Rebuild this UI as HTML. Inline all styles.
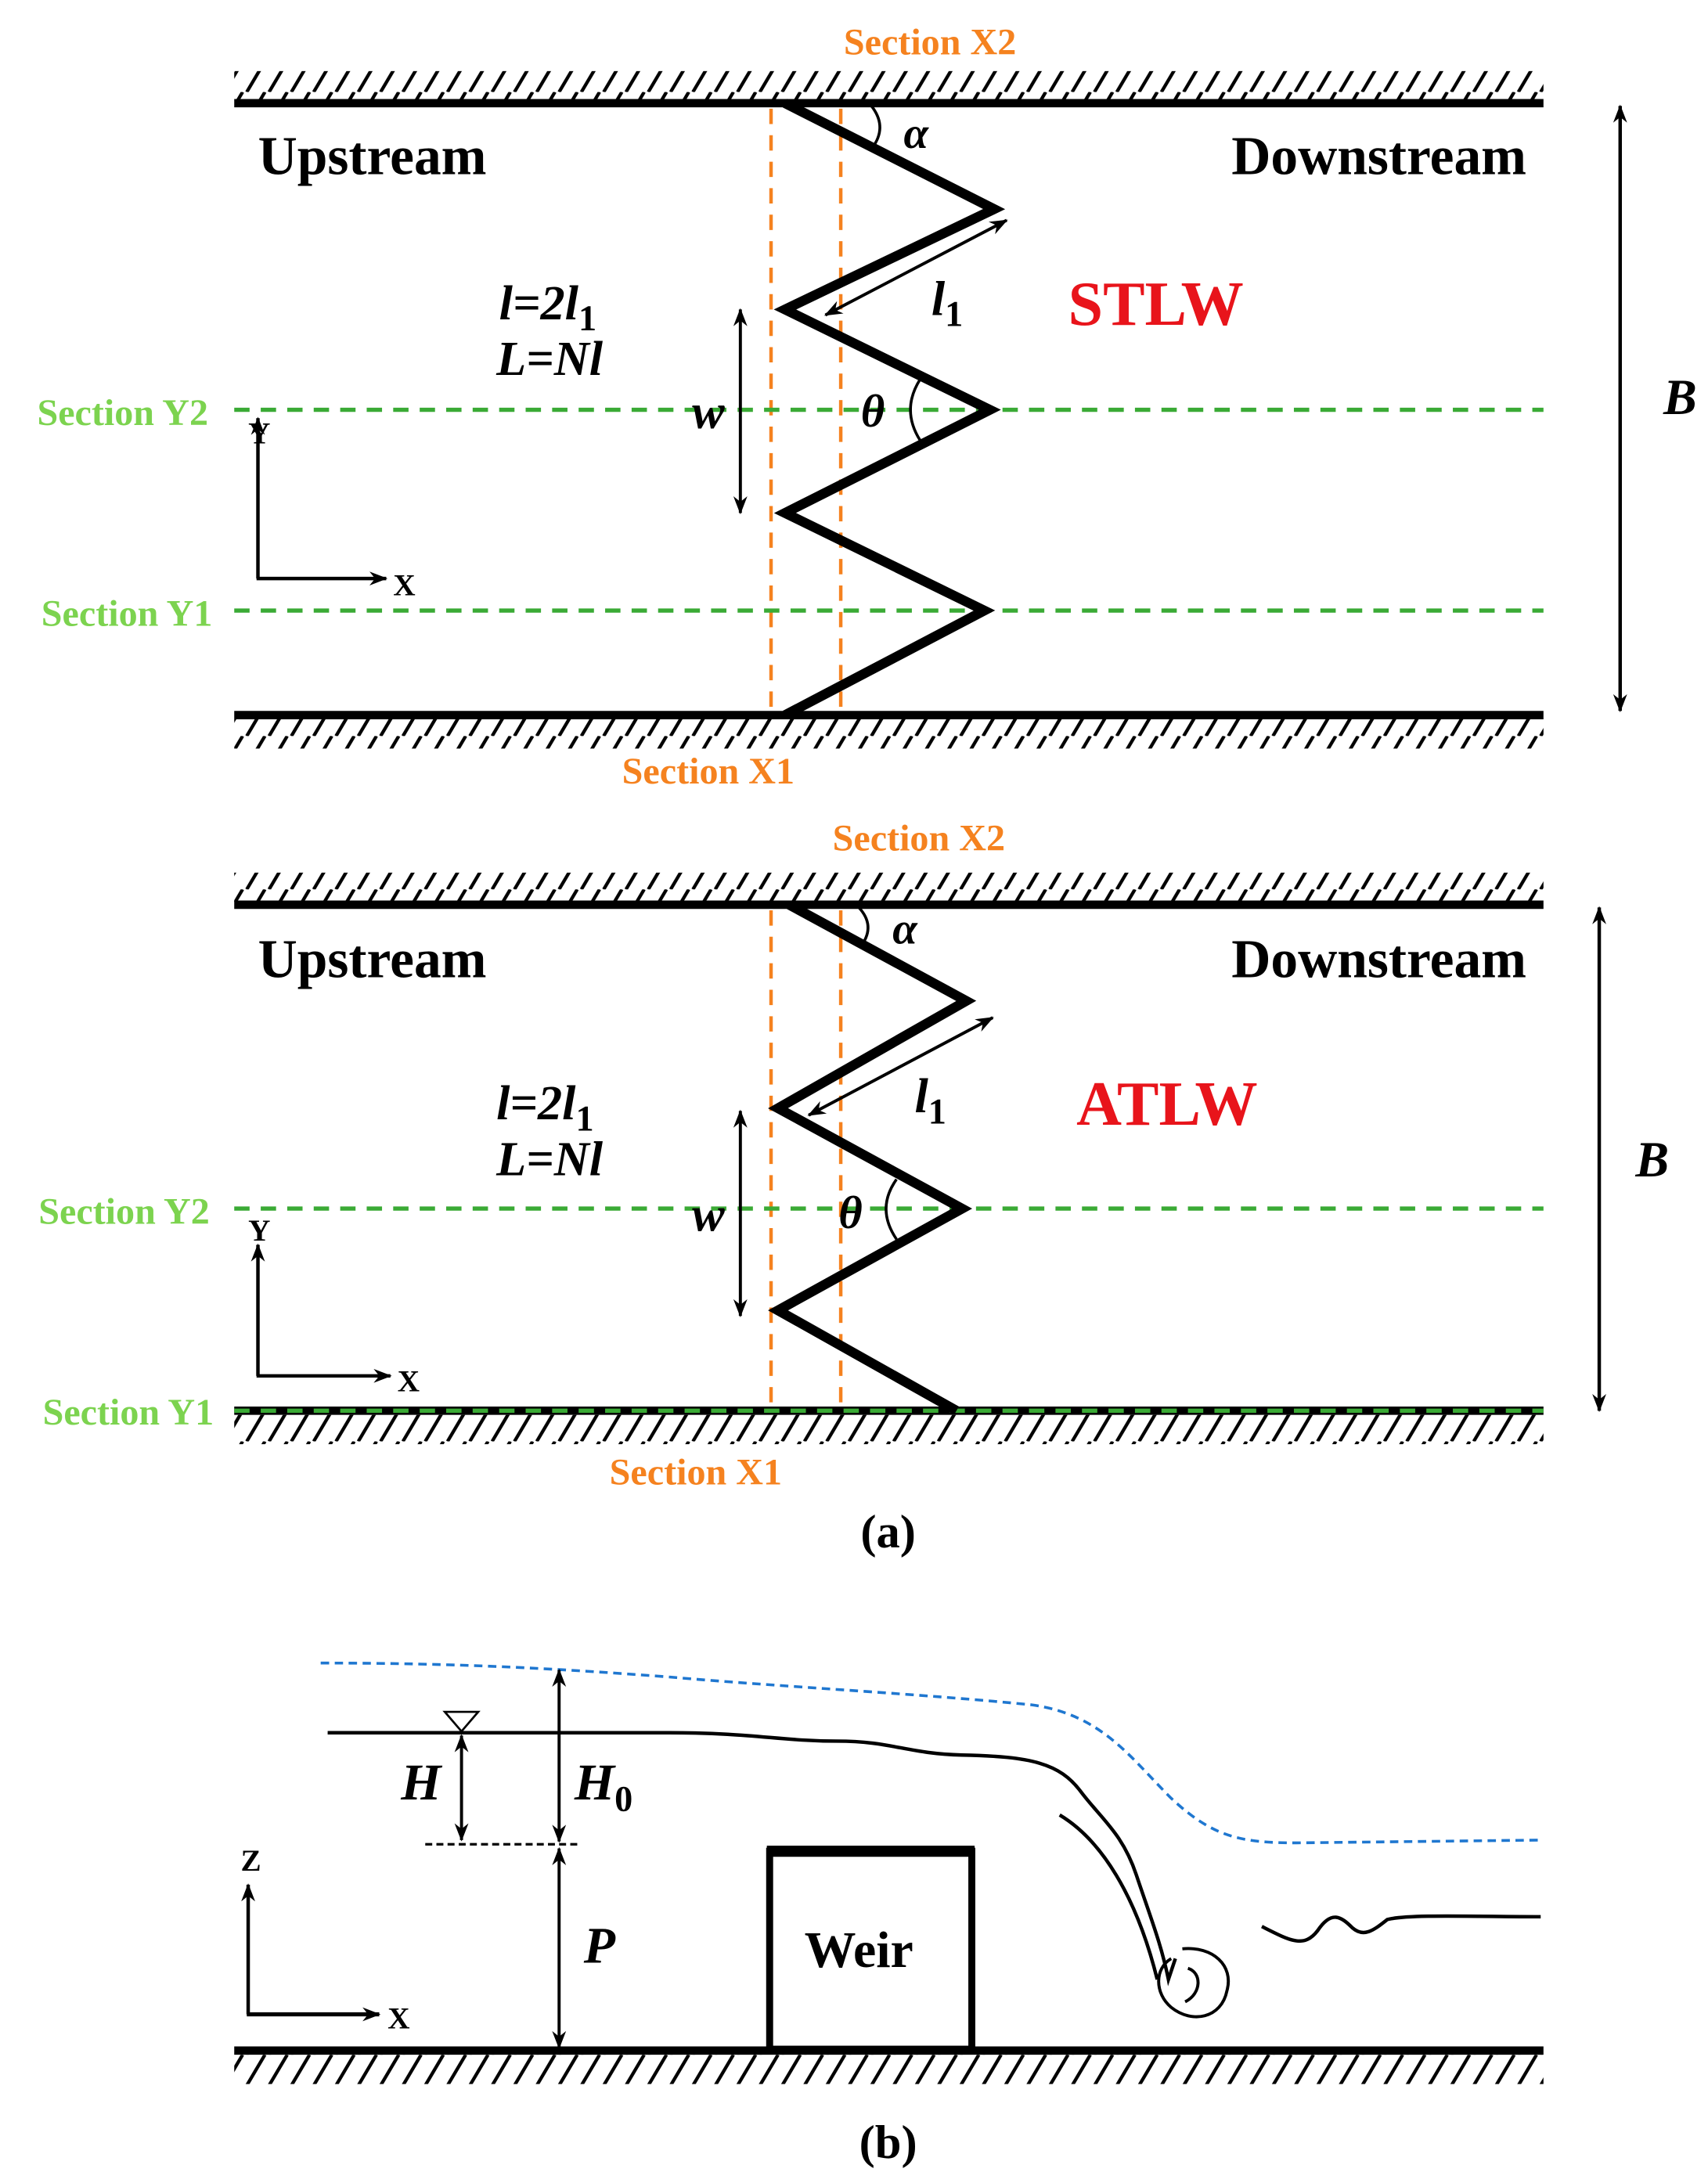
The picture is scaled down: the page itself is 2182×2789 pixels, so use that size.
<!DOCTYPE html>
<html><head><meta charset="utf-8"><style>
html,body{margin:0;padding:0;background:#fff}
svg{display:block}
.t{font-family:"Liberation Serif",serif;font-weight:bold}
</style></head><body>
<svg width="2182" height="2789" viewBox="0 0 1225 1566" preserveAspectRatio="none" xmlns="http://www.w3.org/2000/svg">
<defs>
<pattern id="hatch" patternUnits="userSpaceOnUse" width="16" height="22">
<line x1="1" y1="22" x2="14" y2="0" stroke="#000" stroke-width="2.4"/>
</pattern>
<marker id="ah" markerWidth="13" markerHeight="12" refX="12" refY="6" orient="auto-start-reverse" markerUnits="userSpaceOnUse">
<path d="M0,1 L13,6 L0,11 L4,6 Z" fill="#000"/>
</marker>
</defs>

<!-- ===== Panel 1 ===== -->
<rect x="168" y="51" width="939" height="21" fill="url(#hatch)"/>
<line x1="168" y1="74" x2="1107" y2="74" stroke="#000" stroke-width="6"/>
<line x1="168" y1="513" x2="1107" y2="513" stroke="#000" stroke-width="6"/>
<rect x="168" y="516" width="939" height="21" fill="url(#hatch)"/>

<line x1="553" y1="78" x2="553" y2="513" stroke="#f5821f" stroke-width="2.5" stroke-dasharray="11,8"/>
<line x1="603" y1="78" x2="603" y2="513" stroke="#f5821f" stroke-width="2.5" stroke-dasharray="11,8"/>
<line x1="168" y1="294" x2="1107" y2="294" stroke="#3aaa35" stroke-width="3" stroke-dasharray="11,8"/>
<line x1="168" y1="438" x2="1107" y2="438" stroke="#3aaa35" stroke-width="3" stroke-dasharray="11,8"/>

<polyline points="563,74 713,150 563,222 710,294 563,368 706,438 563,513" fill="none" stroke="#000" stroke-width="7" stroke-linejoin="miter"/>

<text x="667" y="39" class="t" font-size="27" fill="#f5821f" text-anchor="middle">Section X2</text>
<text x="508" y="562" class="t" font-size="27" fill="#f5821f" text-anchor="middle">Section X1</text>
<text x="88" y="305" class="t" font-size="27" fill="#7cd34f" text-anchor="middle">Section Y2</text>
<text x="91" y="449" class="t" font-size="27" fill="#7cd34f" text-anchor="middle">Section Y1</text>
<text x="267" y="125" class="t" font-size="39" text-anchor="middle">Upstream</text>
<text x="989" y="125" class="t" font-size="39" text-anchor="middle">Downstream</text>
<text x="829" y="233" class="t" font-size="45" fill="#e8141b" text-anchor="middle">STLW</text>
<path d="M625,76 Q636,90 627,104" fill="none" stroke="#000" stroke-width="2"/>
<text x="657" y="106" class="t" font-size="32" font-style="italic" text-anchor="middle">α</text>
<line x1="592" y1="226" x2="722" y2="158" stroke="#000" stroke-width="2.2" marker-start="url(#ah)" marker-end="url(#ah)"/>
<text x="668" y="226" class="t" font-size="35" font-style="italic">l<tspan font-size="26" font-style="normal" dy="8">1</tspan></text>
<text x="358" y="229" class="t" font-size="35" font-style="italic">l=2l<tspan font-size="26" font-style="normal" dy="8">1</tspan></text>
<text x="356" y="269" class="t" font-size="35" font-style="italic">L=Nl</text>
<line x1="531" y1="222" x2="531" y2="368" stroke="#000" stroke-width="2.2" marker-start="url(#ah)" marker-end="url(#ah)"/>
<text x="508" y="307" class="t" font-size="35" font-style="italic" text-anchor="middle">w</text>
<path d="M660,272 Q646,294 660,316" fill="none" stroke="#000" stroke-width="2"/>
<text x="626" y="306" class="t" font-size="33" font-style="italic" text-anchor="middle">θ</text>
<line x1="185" y1="415" x2="185" y2="300" stroke="#000" stroke-width="2.5" marker-end="url(#ah)"/>
<line x1="184" y1="415" x2="277" y2="415" stroke="#000" stroke-width="2.5" marker-end="url(#ah)"/>
<text x="186" y="318" font-family="Liberation Serif,serif" font-weight="bold" font-size="22" text-anchor="middle">Y</text>
<text x="290" y="427" font-family="Liberation Serif,serif" font-weight="bold" font-size="22" text-anchor="middle">X</text>
<line x1="1162" y1="76" x2="1162" y2="510" stroke="#000" stroke-width="2.5" marker-start="url(#ah)" marker-end="url(#ah)"/>
<text x="1205" y="297" class="t" font-size="36" font-style="italic" text-anchor="middle">B</text>

<!-- ===== Panel 2 ===== -->
<rect x="168" y="626" width="939" height="21" fill="url(#hatch)"/>
<line x1="168" y1="649" x2="1107" y2="649" stroke="#000" stroke-width="6"/>
<line x1="168" y1="1012" x2="1107" y2="1012" stroke="#000" stroke-width="6"/>
<rect x="168" y="1015" width="939" height="21" fill="url(#hatch)"/>
<line x1="553" y1="653" x2="553" y2="1012" stroke="#f5821f" stroke-width="2.5" stroke-dasharray="11,8"/>
<line x1="603" y1="653" x2="603" y2="1012" stroke="#f5821f" stroke-width="2.5" stroke-dasharray="11,8"/>
<line x1="168" y1="867" x2="1107" y2="867" stroke="#3aaa35" stroke-width="3" stroke-dasharray="11,8"/>
<line x1="168" y1="1012" x2="1107" y2="1012" stroke="#3aaa35" stroke-width="3" stroke-dasharray="11,8"/>
<polyline points="566,649 693,718 558,795 690,867 558,940 686,1012" fill="none" stroke="#000" stroke-width="7"/>
<text x="659" y="610" class="t" font-size="27" fill="#f5821f" text-anchor="middle">Section X2</text>
<text x="499" y="1065" class="t" font-size="27" fill="#f5821f" text-anchor="middle">Section X1</text>
<text x="89" y="878" class="t" font-size="27" fill="#7cd34f" text-anchor="middle">Section Y2</text>
<text x="92" y="1022" class="t" font-size="27" fill="#7cd34f" text-anchor="middle">Section Y1</text>
<text x="267" y="701" class="t" font-size="39" text-anchor="middle">Upstream</text>
<text x="989" y="701" class="t" font-size="39" text-anchor="middle">Downstream</text>
<text x="837" y="807" class="t" font-size="45" fill="#e8141b" text-anchor="middle">ATLW</text>
<path d="M616,651 Q628,664 618,678" fill="none" stroke="#000" stroke-width="2"/>
<text x="649" y="677" class="t" font-size="32" font-style="italic" text-anchor="middle">α</text>
<line x1="580" y1="800" x2="712" y2="730" stroke="#000" stroke-width="2.2" marker-start="url(#ah)" marker-end="url(#ah)"/>
<text x="656" y="798" class="t" font-size="35" font-style="italic">l<tspan font-size="26" font-style="normal" dy="8">1</tspan></text>
<text x="356" y="803" class="t" font-size="35" font-style="italic">l=2l<tspan font-size="26" font-style="normal" dy="8">1</tspan></text>
<text x="356" y="843" class="t" font-size="35" font-style="italic">L=Nl</text>
<line x1="531" y1="797" x2="531" y2="944" stroke="#000" stroke-width="2.2" marker-start="url(#ah)" marker-end="url(#ah)"/>
<text x="508" y="883" class="t" font-size="35" font-style="italic" text-anchor="middle">w</text>
<path d="M643,846 Q628,867 643,889" fill="none" stroke="#000" stroke-width="2"/>
<text x="610" y="881" class="t" font-size="33" font-style="italic" text-anchor="middle">θ</text>
<line x1="185" y1="987" x2="185" y2="893" stroke="#000" stroke-width="2.5" marker-end="url(#ah)"/>
<line x1="184" y1="987" x2="280" y2="987" stroke="#000" stroke-width="2.5" marker-end="url(#ah)"/>
<text x="186" y="890" font-family="Liberation Serif,serif" font-weight="bold" font-size="22" text-anchor="middle">Y</text>
<text x="293" y="998" font-family="Liberation Serif,serif" font-weight="bold" font-size="22" text-anchor="middle">X</text>
<line x1="1147" y1="651" x2="1147" y2="1012" stroke="#000" stroke-width="2.5" marker-start="url(#ah)" marker-end="url(#ah)"/>
<text x="1185" y="844" class="t" font-size="36" font-style="italic" text-anchor="middle">B</text>
<text x="637" y="1110" class="t" font-size="34" text-anchor="middle">(a)</text>

<!-- ===== Panel b ===== -->
<path d="M230,1193 C330,1193 400,1197 480,1203 C560,1210 660,1215 740,1223 C790,1230 810,1260 840,1290 C870,1318 890,1322 930,1322 L1105,1320" fill="none" stroke="#1f77d0" stroke-width="2" stroke-dasharray="6,4"/>
<path d="M235,1243 L480,1243 C540,1243 560,1249 600,1249 C640,1249 650,1258 690,1259 C740,1260 760,1265 775,1285 C790,1305 805,1315 815,1345 C825,1375 833,1395 838,1420 L843,1405" fill="none" stroke="#000" stroke-width="2.5"/>
<path d="M760,1302 C790,1320 815,1360 830,1420" fill="none" stroke="#000" stroke-width="2.5"/>
<path d="M848,1398 C870,1396 885,1410 880,1428 C876,1448 855,1452 840,1440 C828,1430 828,1412 840,1405 M852,1412 C862,1415 862,1430 850,1436" fill="none" stroke="#000" stroke-width="2.2"/>
<path d="M905,1382 C925,1392 935,1398 945,1385 C955,1370 962,1375 970,1383 C978,1390 985,1385 995,1377 C1010,1373 1060,1375 1105,1375" fill="none" stroke="#000" stroke-width="2.5"/>
<path d="M319,1228 L343,1228 L331,1242 Z" fill="#fff" stroke="#000" stroke-width="1.5"/>
<line x1="331" y1="1245" x2="331" y2="1320" stroke="#000" stroke-width="2.2" marker-start="url(#ah)" marker-end="url(#ah)"/>
<line x1="401" y1="1198" x2="401" y2="1321" stroke="#000" stroke-width="2.2" marker-start="url(#ah)" marker-end="url(#ah)"/>
<line x1="305" y1="1323" x2="415" y2="1323" stroke="#000" stroke-width="1.8" stroke-dasharray="5,3"/>
<line x1="401" y1="1326" x2="401" y2="1469" stroke="#000" stroke-width="2.2" marker-start="url(#ah)" marker-end="url(#ah)"/>
<text x="302" y="1291" class="t" font-size="37" font-style="italic" text-anchor="middle">H</text>
<text x="412" y="1291" class="t" font-size="37" font-style="italic">H<tspan font-size="26" font-style="normal" dy="8">0</tspan></text>
<text x="430" y="1408" class="t" font-size="37" font-style="italic" text-anchor="middle">P</text>
<rect x="552" y="1328" width="145" height="142" fill="none" stroke="#000" stroke-width="5"/>
<line x1="550" y1="1328" x2="699" y2="1328" stroke="#000" stroke-width="8"/>
<text x="616" y="1411" class="t" font-size="37" text-anchor="middle">Weir</text>
<line x1="178" y1="1445" x2="178" y2="1352" stroke="#000" stroke-width="2.5" marker-end="url(#ah)"/>
<line x1="177" y1="1445" x2="272" y2="1445" stroke="#000" stroke-width="3" marker-end="url(#ah)"/>
<text x="180" y="1342" font-family="Liberation Serif,serif" font-weight="bold" font-size="22" text-anchor="middle">Z</text>
<text x="286" y="1455" font-family="Liberation Serif,serif" font-weight="bold" font-size="22" text-anchor="middle">X</text>
<line x1="168" y1="1471" x2="1107" y2="1471" stroke="#000" stroke-width="6"/>
<rect x="168" y="1474" width="939" height="21" fill="url(#hatch)"/>
<text x="637" y="1548" class="t" font-size="34" text-anchor="middle">(b)</text>
</svg>
</body></html>
